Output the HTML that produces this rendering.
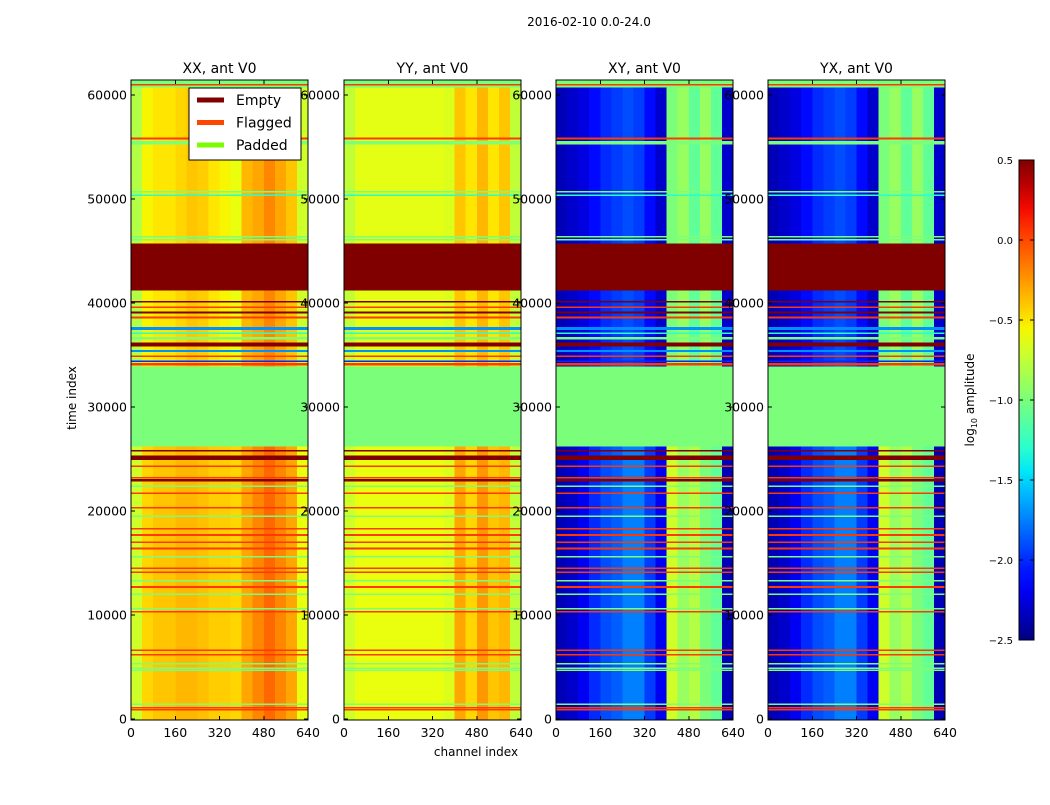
<!DOCTYPE html>
<html><head><meta charset="utf-8"><style>
body{margin:0;background:#fff;}
svg text{font-family:"DejaVu Sans","Liberation Sans",sans-serif;fill:#000;}
</style></head><body>
<svg id="fig" width="1050" height="800" xmlns="http://www.w3.org/2000/svg" shape-rendering="crispEdges">
<rect width="1050" height="800" fill="#fff"/>
<text x="589" y="26" font-size="12" text-anchor="middle">2016-02-10 0.0-24.0</text>
<text x="76" y="398" font-size="12" text-anchor="middle" transform="rotate(-90 76 398)">time index</text>
<text x="476" y="756" font-size="12" text-anchor="middle">channel index</text>
<g id="panels"></g>
<g id="cbar"></g>
</svg>
<script>
const panelNames = ["XX, ant V0","YY, ant V0","XY, ant V0","YX, ant V0"];
const segEdges = [0,40,80,120,160,200,240,280,320,360,400,440,480,520,560,600,640];
const upperXX = [-0.8,-0.55,-0.5,-0.5,-0.45,-0.4,-0.42,-0.5,-0.55,-0.6,-0.35,-0.3,-0.2,-0.3,-0.4,-0.7];
const lowerXX = [-0.7,-0.45,-0.4,-0.4,-0.35,-0.35,-0.38,-0.42,-0.42,-0.45,-0.3,-0.2,-0.1,-0.2,-0.3,-0.6];
const upperYY = [-0.75,-0.62,-0.62,-0.62,-0.62,-0.62,-0.62,-0.62,-0.62,-0.65,-0.4,-0.5,-0.35,-0.5,-0.4,-0.75];
const lowerYY = [-0.7,-0.6,-0.6,-0.6,-0.6,-0.6,-0.6,-0.6,-0.6,-0.65,-0.3,-0.45,-0.25,-0.4,-0.35,-0.75];
const upperXY = [-2.35,-2.3,-2.25,-2.1,-2.0,-1.95,-1.9,-1.95,-2.1,-2.3,-1.0,-0.9,-1.1,-0.9,-1.1,-2.3];
const lowerXY = [-2.35,-2.3,-2.2,-2.0,-1.9,-1.85,-1.75,-1.75,-1.95,-2.2,-0.7,-0.9,-0.8,-1.0,-1.1,-2.35];
const upperProfiles = [upperXX,upperYY,upperXY,upperXY];
const lowerProfiles = [lowerXX,lowerYY,lowerXY,lowerXY];
const sectionSplit = 30000;
const bandStart = [60700,60950,55700,55250,50300,50600,46000,46300,41200,40050,39500,39000,38500,37400,37000,36500,35800,35300,34800,34300,34000,26200,25700,24900,24200,23100,22800,22300,21600,20200,19400,18200,17600,16900,16300,15500,14400,14000,13200,12600,11900,10500,10200,6500,6100,5200,4800,4600,1300,1000,800];
const bandEnd   = [61440,61050,55900,55550,50450,50750,46150,46450,45700,40200,39650,39150,38700,37700,37150,36700,36200,35450,34950,34450,34200,33900,25850,25300,24350,23250,23050,22450,21750,20350,19550,18350,17750,17050,16450,15650,14550,14150,13350,12750,12050,10650,10350,6650,6250,5350,4950,4750,1450,1150,950];
const bandValue = [-1.0,0.05,0.05,-1.0,-1.3,-1.0,-1.0,-1.0,0.5,0.5,0.05,0.5,0.05,-1.7,-1.3,-1.0,0.5,-1.7,0.05,-2.0,0.05,-1.0,0.5,0.5,0.05,0.05,0.5,-1.0,0.05,0.05,-1.0,0.05,0.05,0.05,0.05,-1.0,0.05,0.05,-1.0,0.05,-1.0,-1.0,0.05,0.05,0.05,-1.0,-1.0,-1.0,-1.0,0.05,0.05];
const yTicks = [0,10000,20000,30000,40000,50000,60000];
const xTicks = [0,160,320,480,640];
const cbTicks = [0.5,0.0,-0.5,-1.0,-1.5,-2.0,-2.5];
const cbTickLabels = ["0.5","0.0","\u22120.5","\u22121.0","\u22121.5","\u22122.0","\u22122.5"];
const legendLabels = ["Empty","Flagged","Padded"];
const legendColors = ["#800000","#ff4500","#7cfc00"];

const panelX = [131,344,556,768], panelW = 177, panelTop = 80, panelBot = 720;
const tMin = -120, tMax = 61440, vMin = -2.5, vMax = 0.5;
const NS = "http://www.w3.org/2000/svg";
function interp(pts,x){for(let i=1;i<pts.length;i++){if(x<=pts[i][0]){const a=pts[i-1],b=pts[i];return a[1]+(b[1]-a[1])*(x-a[0])/(b[0]-a[0]);}}return pts[pts.length-1][1];}
function jet(v){let x=(v-vMin)/(vMax-vMin);x=Math.max(0,Math.min(1,x));
 const r=interp([[0,0],[0.35,0],[0.66,1],[0.89,1],[1,0.5]],x);
 const g=interp([[0,0],[0.125,0],[0.375,1],[0.64,1],[0.91,0],[1,0]],x);
 const b=interp([[0,0.5],[0.11,1],[0.34,1],[0.65,0],[1,0]],x);
 return `rgb(${Math.round(r*255)},${Math.round(g*255)},${Math.round(b*255)})`;}
function yS(t){return panelBot-(t-tMin)/(tMax-tMin)*(panelBot-panelTop);}
function xS(p,c){return panelX[p]+c/640*panelW;}
function mk(tag,attrs,parent){const e=document.createElementNS(NS,tag);for(const k in attrs)e.setAttribute(k,attrs[k]);parent.appendChild(e);return e;}
const root=document.getElementById('panels');
for(let p=0;p<4;p++){
 const g=mk('g',{},root);
 
 
 const secs=[[sectionSplit,tMax,upperProfiles[p]],[tMin,sectionSplit,lowerProfiles[p]]];
 secs.forEach(s=>{for(let i=0;i<segEdges.length-1;i++){
   const r=mk('rect',{x:xS(p,segEdges[i]),y:yS(s[1]),width:xS(p,segEdges[i+1])-xS(p,segEdges[i])+0.5,height:yS(s[0])-yS(s[1]),fill:jet(s[2][i])},g);
   
   }});
 for(let b=0;b<bandStart.length;b++){
   const y1=yS(bandEnd[b]),y2=yS(bandStart[b]);
   const r=mk('rect',{x:panelX[p],y:y1,width:panelW,height:Math.max(1.5,y2-y1),fill:jet(bandValue[b])},g);
   
   }
 const fr=mk('rect',{x:panelX[p],y:panelTop,width:panelW,height:panelBot-panelTop,fill:'none',stroke:'#000','stroke-width':1},g);
 
 
 const tt=mk('text',{x:panelX[p]+panelW/2,y:73,'font-size':14,'text-anchor':'middle'},g);tt.textContent=panelNames[p];
 
 
 yTicks.forEach(t=>{const y=yS(t);
   mk('line',{x1:panelX[p],x2:panelX[p]+4,y1:y,y2:y,stroke:'#000'},g);
   mk('line',{x1:panelX[p]+panelW-4,x2:panelX[p]+panelW,y1:y,y2:y,stroke:'#000'},g);
   const l=mk('text',{x:panelX[p]-4,y:y+4.5,'font-size':12.5,'text-anchor':'end'},g);l.textContent=t;
   
   });
 xTicks.forEach(c=>{const x=xS(p,c);
   mk('line',{x1:x,x2:x,y1:panelBot,y2:panelBot-4,stroke:'#000'},g);
   mk('line',{x1:x,x2:x,y1:panelTop,y2:panelTop+4,stroke:'#000'},g);
   const l=mk('text',{x:x,y:737,'font-size':12.5,'text-anchor':'middle'},g);l.textContent=c;
   
   });
}
const lg=mk('g',{},root);


mk('rect',{x:189,y:88,width:112,height:72,fill:'#fff',stroke:'#000'},lg);
legendLabels.forEach((s,i)=>{const y=100+i*22.5;
 const ln=mk('rect',{x:197,y:y-2.5,width:27,height:5,fill:legendColors[i]},lg);
 
 
 const t=mk('text',{x:236,y:y+5,'font-size':14},lg);t.textContent=s;
 
 });
const cb=document.getElementById('cbar');
const cbX=1019,cbW=15,cbTop=160,cbBot=640;
const defs=mk('defs',{},cb);
const gr=mk('linearGradient',{id:'jetg',x1:0,y1:1,x2:0,y2:0},defs);
for(let i=0;i<=20;i++){mk('stop',{offset:i/20,'stop-color':jet(vMin+(vMax-vMin)*i/20)},gr);}
mk('rect',{x:cbX,y:cbTop,width:cbW,height:cbBot-cbTop,fill:'url(#jetg)',stroke:'#000'},cb);
cbTicks.forEach((v,i)=>{const y=cbBot-(v-vMin)/(vMax-vMin)*(cbBot-cbTop);
 mk('line',{x1:cbX,x2:cbX+4,y1:y,y2:y,stroke:'#000'},cb);
 mk('line',{x1:cbX+cbW-4,x2:cbX+cbW,y1:y,y2:y,stroke:'#000'},cb);
 const t=mk('text',{x:cbX-6,y:y+4,'font-size':10,'text-anchor':'end'},cb);t.textContent=cbTickLabels[i];
 
 });
const ct=mk('text',{x:974,y:400,'font-size':12,'text-anchor':'middle',transform:'rotate(-90 974 400)'},cb);
ct.innerHTML='log<tspan font-size="8" dy="3">10</tspan><tspan dy="-3"> amplitude</tspan>';


</script>
</body></html>
